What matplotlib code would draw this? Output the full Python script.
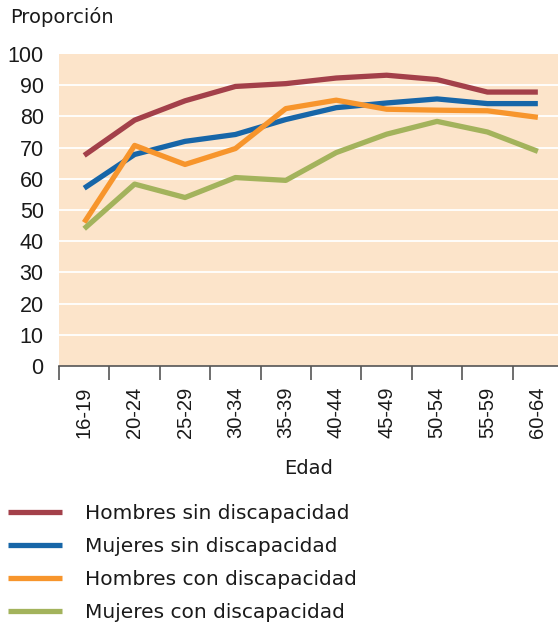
import matplotlib
matplotlib.use("Agg")
import matplotlib.pyplot as plt
import numpy as np

plt.rcParams["font.family"] = ["Liberation Sans", "DejaVu Sans"]

ages = ["16-19", "20-24", "25-29", "30-34", "35-39", "40-44", "45-49", "50-54", "55-59", "60-64"]
hombres_sin = [67.5, 78.8, 85.0, 89.6, 90.5, 92.3, 93.2, 91.8, 87.8, 87.8]
mujeres_sin = [57.0, 67.8, 72.0, 74.2, 79.0, 82.8, 84.3, 85.6, 84.1, 84.1]
hombres_con = [46.0, 70.7, 64.6, 69.7, 82.5, 85.2, 82.3, 82.0, 81.8, 79.7]
mujeres_con = [44.0, 58.3, 54.0, 60.4, 59.5, 68.4, 74.3, 78.4, 75.0, 68.8]

series = [
    ("Hombres sin discapacidad", hombres_sin, "#a3404a"),
    ("Mujeres sin discapacidad", mujeres_sin, "#1766a8"),
    ("Hombres con discapacidad", hombres_con, "#f7952c"),
    ("Mujeres con discapacidad", mujeres_con, "#a3b35c"),
]

TEXT = "#1a1a1a"
W, H = 558, 623
fig = plt.figure(figsize=(W / 100, H / 100), dpi=100)
ax = fig.add_axes([59 / W, 1 - 366 / H, 1 - 59 / W, (366 - 54) / H])
ax.set_facecolor("#fce4ca")

x = np.arange(len(ages))
for label, values, color in series:
    ax.plot(x, values, color=color, linewidth=3.8, label=label, solid_capstyle="butt")

ax.set_ylim(0, 100)
ax.set_xlim(-0.5, 9.4)
ax.set_yticks(np.arange(0, 101, 10))
ax.tick_params(axis="y", length=0, labelsize=15.5, pad=11, colors=TEXT)
for v in range(10, 100, 10):
    ax.axhline(v, color="white", linewidth=1.3, zorder=0.5)

ax.set_xticks(x)
ax.set_xticklabels(ages, rotation=90, fontsize=14.5)
ax.tick_params(axis="x", length=0, pad=15, colors=TEXT)
ax.set_xticks(np.arange(-0.5, 9.5, 1), minor=True)
ax.tick_params(axis="x", which="minor", length=10, width=1.2, color="#555555")

for side in ["left", "right", "top"]:
    ax.spines[side].set_visible(False)
ax.spines["bottom"].set_color("#555555")
ax.spines["bottom"].set_linewidth(1.2)

ax.set_xlabel("Edad", fontsize=14, labelpad=15, color=TEXT, family="DejaVu Sans")
fig.text(10 / W, 1 - 17 / H, "Proporción", fontsize=14, va="center", ha="left",
         color=TEXT, family="DejaVu Sans")

fig.legend(loc="upper left", bbox_to_anchor=(0 / W, 1 - 496 / H), frameon=False,
           prop={"family": "DejaVu Sans", "size": 14.5}, labelcolor=TEXT,
           handlelength=2.69, handletextpad=1.15, labelspacing=0.7,
           borderaxespad=0.0)

fig.savefig("out.png", dpi=100)
